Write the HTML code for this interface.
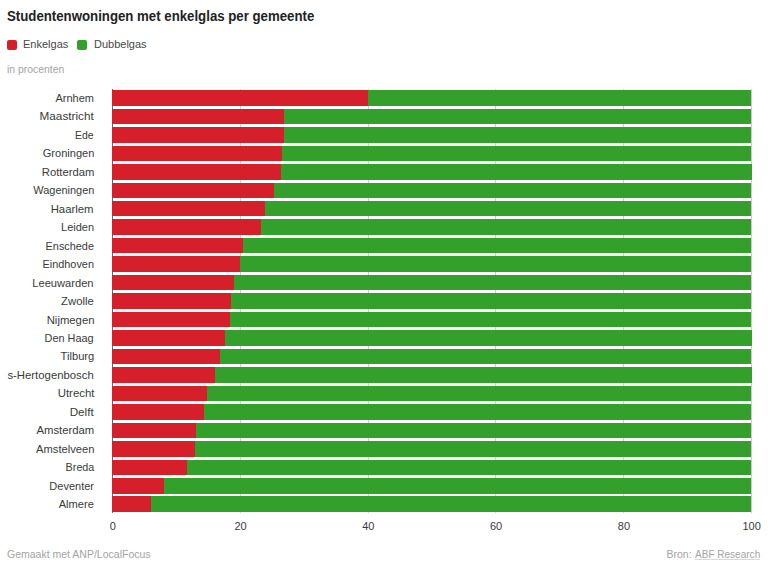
<!DOCTYPE html>
<html><head><meta charset="utf-8"><style>
html,body{margin:0;padding:0;background:#fff;}
body{width:768px;height:566px;position:relative;overflow:hidden;font-family:"Liberation Sans",sans-serif;}
.title{position:absolute;left:7.3px;top:8px;font-size:14px;font-weight:bold;color:#222;white-space:nowrap;line-height:16px;transform:scaleX(0.945);transform-origin:0 0;}
.leg{position:absolute;top:40px;width:10px;height:10px;border-radius:2px;}
.legt{position:absolute;top:37.4px;font-size:11px;color:#484848;line-height:14px;white-space:nowrap;}
.unit{position:absolute;left:7px;top:63.5px;font-size:10.4px;color:#a4a4a4;line-height:12px;white-space:nowrap;}
.lbl{position:absolute;right:674px;font-size:11px;color:#3a3a3a;transform-origin:100% 50%;line-height:14px;white-space:nowrap;text-align:right;}
.bar{position:absolute;height:15.5px;}
.grid{position:absolute;top:88.65px;height:424.41px;width:1px;background:#ccc;}
.axis{position:absolute;left:112px;top:88.65px;width:1px;height:424.41px;background:#666;}
.tick{position:absolute;top:519.3px;width:60px;text-align:center;font-size:11px;color:#3a3a3a;line-height:14px;}
.foot{position:absolute;top:547.6px;font-size:10.5px;color:#a4a4a4;line-height:12px;white-space:nowrap;}
.src{transform:scaleX(0.955);transform-origin:0 0;} .src:after{content:"";position:absolute;left:0;right:0;top:11px;height:1px;background:#d4dcd4;}
</style></head><body>
<div class="title">Studentenwoningen met enkelglas per gemeente</div>
<div class="leg" style="left:7px;background:#d5202b"></div><div class="legt" style="left:23px">Enkelgas</div>
<div class="leg" style="left:77px;background:#33a02c"></div><div class="legt" style="left:94px">Dubbelgas</div>
<div class="unit">in procenten</div>
<div class="axis"></div>
<div class="grid" style="left:239.80px"></div>
<div class="grid" style="left:367.60px"></div>
<div class="grid" style="left:495.40px"></div>
<div class="grid" style="left:623.20px"></div>
<div class="grid" style="left:751.00px"></div>
<div class="lbl" style="top:90.90px;transform:scaleX(1.000)">Arnhem</div>
<div class="bar" style="top:90.15px;left:112px;width:256.10px;background:#d5202b"></div>
<div class="bar" style="top:90.15px;left:368.10px;width:383.40px;background:#33a02c"></div>
<div class="lbl" style="top:109.37px;transform:scaleX(1.068)">Maastricht</div>
<div class="bar" style="top:108.62px;left:112px;width:172.40px;background:#d5202b"></div>
<div class="bar" style="top:108.62px;left:284.40px;width:467.10px;background:#33a02c"></div>
<div class="lbl" style="top:127.84px;transform:scaleX(0.947)">Ede</div>
<div class="bar" style="top:127.09px;left:112px;width:171.90px;background:#d5202b"></div>
<div class="bar" style="top:127.09px;left:283.90px;width:467.60px;background:#33a02c"></div>
<div class="lbl" style="top:146.31px;transform:scaleX(1.006)">Groningen</div>
<div class="bar" style="top:145.56px;left:112px;width:170.40px;background:#d5202b"></div>
<div class="bar" style="top:145.56px;left:282.40px;width:469.10px;background:#33a02c"></div>
<div class="lbl" style="top:164.78px;transform:scaleX(1.024)">Rotterdam</div>
<div class="bar" style="top:164.03px;left:112px;width:168.50px;background:#d5202b"></div>
<div class="bar" style="top:164.03px;left:280.50px;width:471.00px;background:#33a02c"></div>
<div class="lbl" style="top:183.25px;transform:scaleX(0.995)">Wageningen</div>
<div class="bar" style="top:182.50px;left:112px;width:162.30px;background:#d5202b"></div>
<div class="bar" style="top:182.50px;left:274.30px;width:477.20px;background:#33a02c"></div>
<div class="lbl" style="top:201.72px;transform:scaleX(1.032)">Haarlem</div>
<div class="bar" style="top:200.97px;left:112px;width:152.60px;background:#d5202b"></div>
<div class="bar" style="top:200.97px;left:264.60px;width:486.90px;background:#33a02c"></div>
<div class="lbl" style="top:220.19px;transform:scaleX(0.997)">Leiden</div>
<div class="bar" style="top:219.44px;left:112px;width:149.40px;background:#d5202b"></div>
<div class="bar" style="top:219.44px;left:261.40px;width:490.10px;background:#33a02c"></div>
<div class="lbl" style="top:238.66px;transform:scaleX(0.988)">Enschede</div>
<div class="bar" style="top:237.91px;left:112px;width:131.20px;background:#d5202b"></div>
<div class="bar" style="top:237.91px;left:243.20px;width:508.30px;background:#33a02c"></div>
<div class="lbl" style="top:257.13px;transform:scaleX(0.990)">Eindhoven</div>
<div class="bar" style="top:256.38px;left:112px;width:127.90px;background:#d5202b"></div>
<div class="bar" style="top:256.38px;left:239.90px;width:511.60px;background:#33a02c"></div>
<div class="lbl" style="top:275.60px;transform:scaleX(1.012)">Leeuwarden</div>
<div class="bar" style="top:274.85px;left:112px;width:121.60px;background:#d5202b"></div>
<div class="bar" style="top:274.85px;left:233.60px;width:517.90px;background:#33a02c"></div>
<div class="lbl" style="top:294.07px;transform:scaleX(1.028)">Zwolle</div>
<div class="bar" style="top:293.32px;left:112px;width:119.40px;background:#d5202b"></div>
<div class="bar" style="top:293.32px;left:231.40px;width:520.10px;background:#33a02c"></div>
<div class="lbl" style="top:312.54px;transform:scaleX(1.028)">Nijmegen</div>
<div class="bar" style="top:311.79px;left:112px;width:118.20px;background:#d5202b"></div>
<div class="bar" style="top:311.79px;left:230.20px;width:521.30px;background:#33a02c"></div>
<div class="lbl" style="top:331.01px;transform:scaleX(0.988)">Den Haag</div>
<div class="bar" style="top:330.26px;left:112px;width:112.50px;background:#d5202b"></div>
<div class="bar" style="top:330.26px;left:224.50px;width:527.00px;background:#33a02c"></div>
<div class="lbl" style="top:349.48px;transform:scaleX(1.012)">Tilburg</div>
<div class="bar" style="top:348.73px;left:112px;width:107.70px;background:#d5202b"></div>
<div class="bar" style="top:348.73px;left:219.70px;width:531.80px;background:#33a02c"></div>
<div class="lbl" style="top:367.95px;transform:scaleX(1.031)">s-Hertogenbosch</div>
<div class="bar" style="top:367.20px;left:112px;width:103.00px;background:#d5202b"></div>
<div class="bar" style="top:367.20px;left:215.00px;width:536.50px;background:#33a02c"></div>
<div class="lbl" style="top:386.42px;transform:scaleX(1.037)">Utrecht</div>
<div class="bar" style="top:385.67px;left:112px;width:94.90px;background:#d5202b"></div>
<div class="bar" style="top:385.67px;left:206.90px;width:544.60px;background:#33a02c"></div>
<div class="lbl" style="top:404.89px;transform:scaleX(1.059)">Delft</div>
<div class="bar" style="top:404.14px;left:112px;width:92.10px;background:#d5202b"></div>
<div class="bar" style="top:404.14px;left:204.10px;width:547.40px;background:#33a02c"></div>
<div class="lbl" style="top:423.36px;transform:scaleX(1.028)">Amsterdam</div>
<div class="bar" style="top:422.61px;left:112px;width:83.90px;background:#d5202b"></div>
<div class="bar" style="top:422.61px;left:195.90px;width:555.60px;background:#33a02c"></div>
<div class="lbl" style="top:441.83px;transform:scaleX(1.016)">Amstelveen</div>
<div class="bar" style="top:441.08px;left:112px;width:82.90px;background:#d5202b"></div>
<div class="bar" style="top:441.08px;left:194.90px;width:556.60px;background:#33a02c"></div>
<div class="lbl" style="top:460.30px;transform:scaleX(0.979)">Breda</div>
<div class="bar" style="top:459.55px;left:112px;width:75.40px;background:#d5202b"></div>
<div class="bar" style="top:459.55px;left:187.40px;width:564.10px;background:#33a02c"></div>
<div class="lbl" style="top:478.77px;transform:scaleX(1.000)">Deventer</div>
<div class="bar" style="top:478.02px;left:112px;width:52.40px;background:#d5202b"></div>
<div class="bar" style="top:478.02px;left:164.40px;width:587.10px;background:#33a02c"></div>
<div class="lbl" style="top:497.24px;transform:scaleX(1.009)">Almere</div>
<div class="bar" style="top:496.49px;left:112px;width:38.80px;background:#d5202b"></div>
<div class="bar" style="top:496.49px;left:150.80px;width:600.70px;background:#33a02c"></div>
<div class="tick" style="left:82.70px">0</div>
<div class="tick" style="left:210.50px">20</div>
<div class="tick" style="left:338.30px">40</div>
<div class="tick" style="left:466.10px">60</div>
<div class="tick" style="left:593.90px">80</div>
<div class="tick" style="left:721.70px">100</div>
<div class="foot" style="left:7px">Gemaakt met ANP/LocalFocus</div>
<div class="foot" style="left:666.5px">Bron:</div><div class="foot src" style="left:695px">ABF Research</div>
</body></html>
